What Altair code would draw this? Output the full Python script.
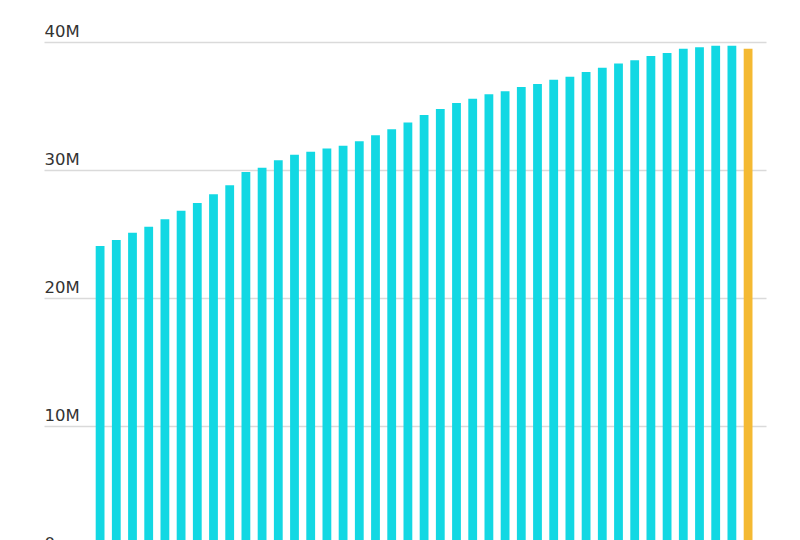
import altair as alt
import pandas as pd

years = [1980, 1981, 1982, 1983, 1984, 1985, 1986, 1987, 1988, 1989,
         1990, 1991, 1992, 1993, 1994, 1995, 1996, 1997, 1998, 1999,
         2000, 2001, 2002, 2003, 2004, 2005, 2006, 2007, 2008, 2009,
         2010, 2011, 2012, 2013, 2014, 2015, 2016, 2017, 2018, 2019,
         2020]
population_m = [24.06, 24.53, 25.10, 25.57, 26.15, 26.82, 27.42, 28.10, 28.80, 29.84,
                30.18, 30.76, 31.20, 31.43, 31.67, 31.90, 32.24, 32.71, 33.18, 33.72,
                34.30, 34.77, 35.23, 35.57, 35.91, 36.15, 36.48, 36.72, 37.06, 37.29,
                37.66, 37.99, 38.33, 38.57, 38.91, 39.14, 39.48, 39.59, 39.71, 39.71,
                39.48]
kinds = ["past"] * 40 + ["latest"]
y_ticks = [0, 10, 20, 30, 40]
x_domain = [1976.537, 2021.105]

df = pd.DataFrame({"year": years, "pop": population_m, "kind": kinds})

chart = alt.Chart(df).mark_bar(size=8.8).encode(
    x=alt.X("year:Q", axis=None,
            scale=alt.Scale(domain=x_domain, nice=False, zero=False, padding=0)),
    y=alt.Y("pop:Q",
            scale=alt.Scale(domain=[0, 40], range=[512, 0], nice=False, zero=True),
            axis=alt.Axis(values=y_ticks, title=None, domain=False, ticks=False,
                          tickSize=0, labelPadding=0, labelAlign="left",
                          labelBaseline="alphabetic", labelOffset=-6,
                          labelExpr="datum.value == 0 ? '0' : datum.value + 'M'",
                          labelFont="DejaVu Sans", labelFontSize=16.5,
                          labelColor="#333333", grid=True, gridColor="#dadada",
                          gridWidth=1.5)),
    color=alt.Color("kind:N", legend=None,
                    scale=alt.Scale(domain=["past", "latest"],
                                    range=["#12D8E3", "#F4B932"])),
).properties(
    width=722,
    height=498,
    autosize=alt.AutoSizeParams(type="none"),
    padding={"left": 36, "top": 34, "right": 10, "bottom": 0},
).configure_view(stroke=None)

chart.save("out.html", embed_options={"renderer": "svg", "actions": False})
